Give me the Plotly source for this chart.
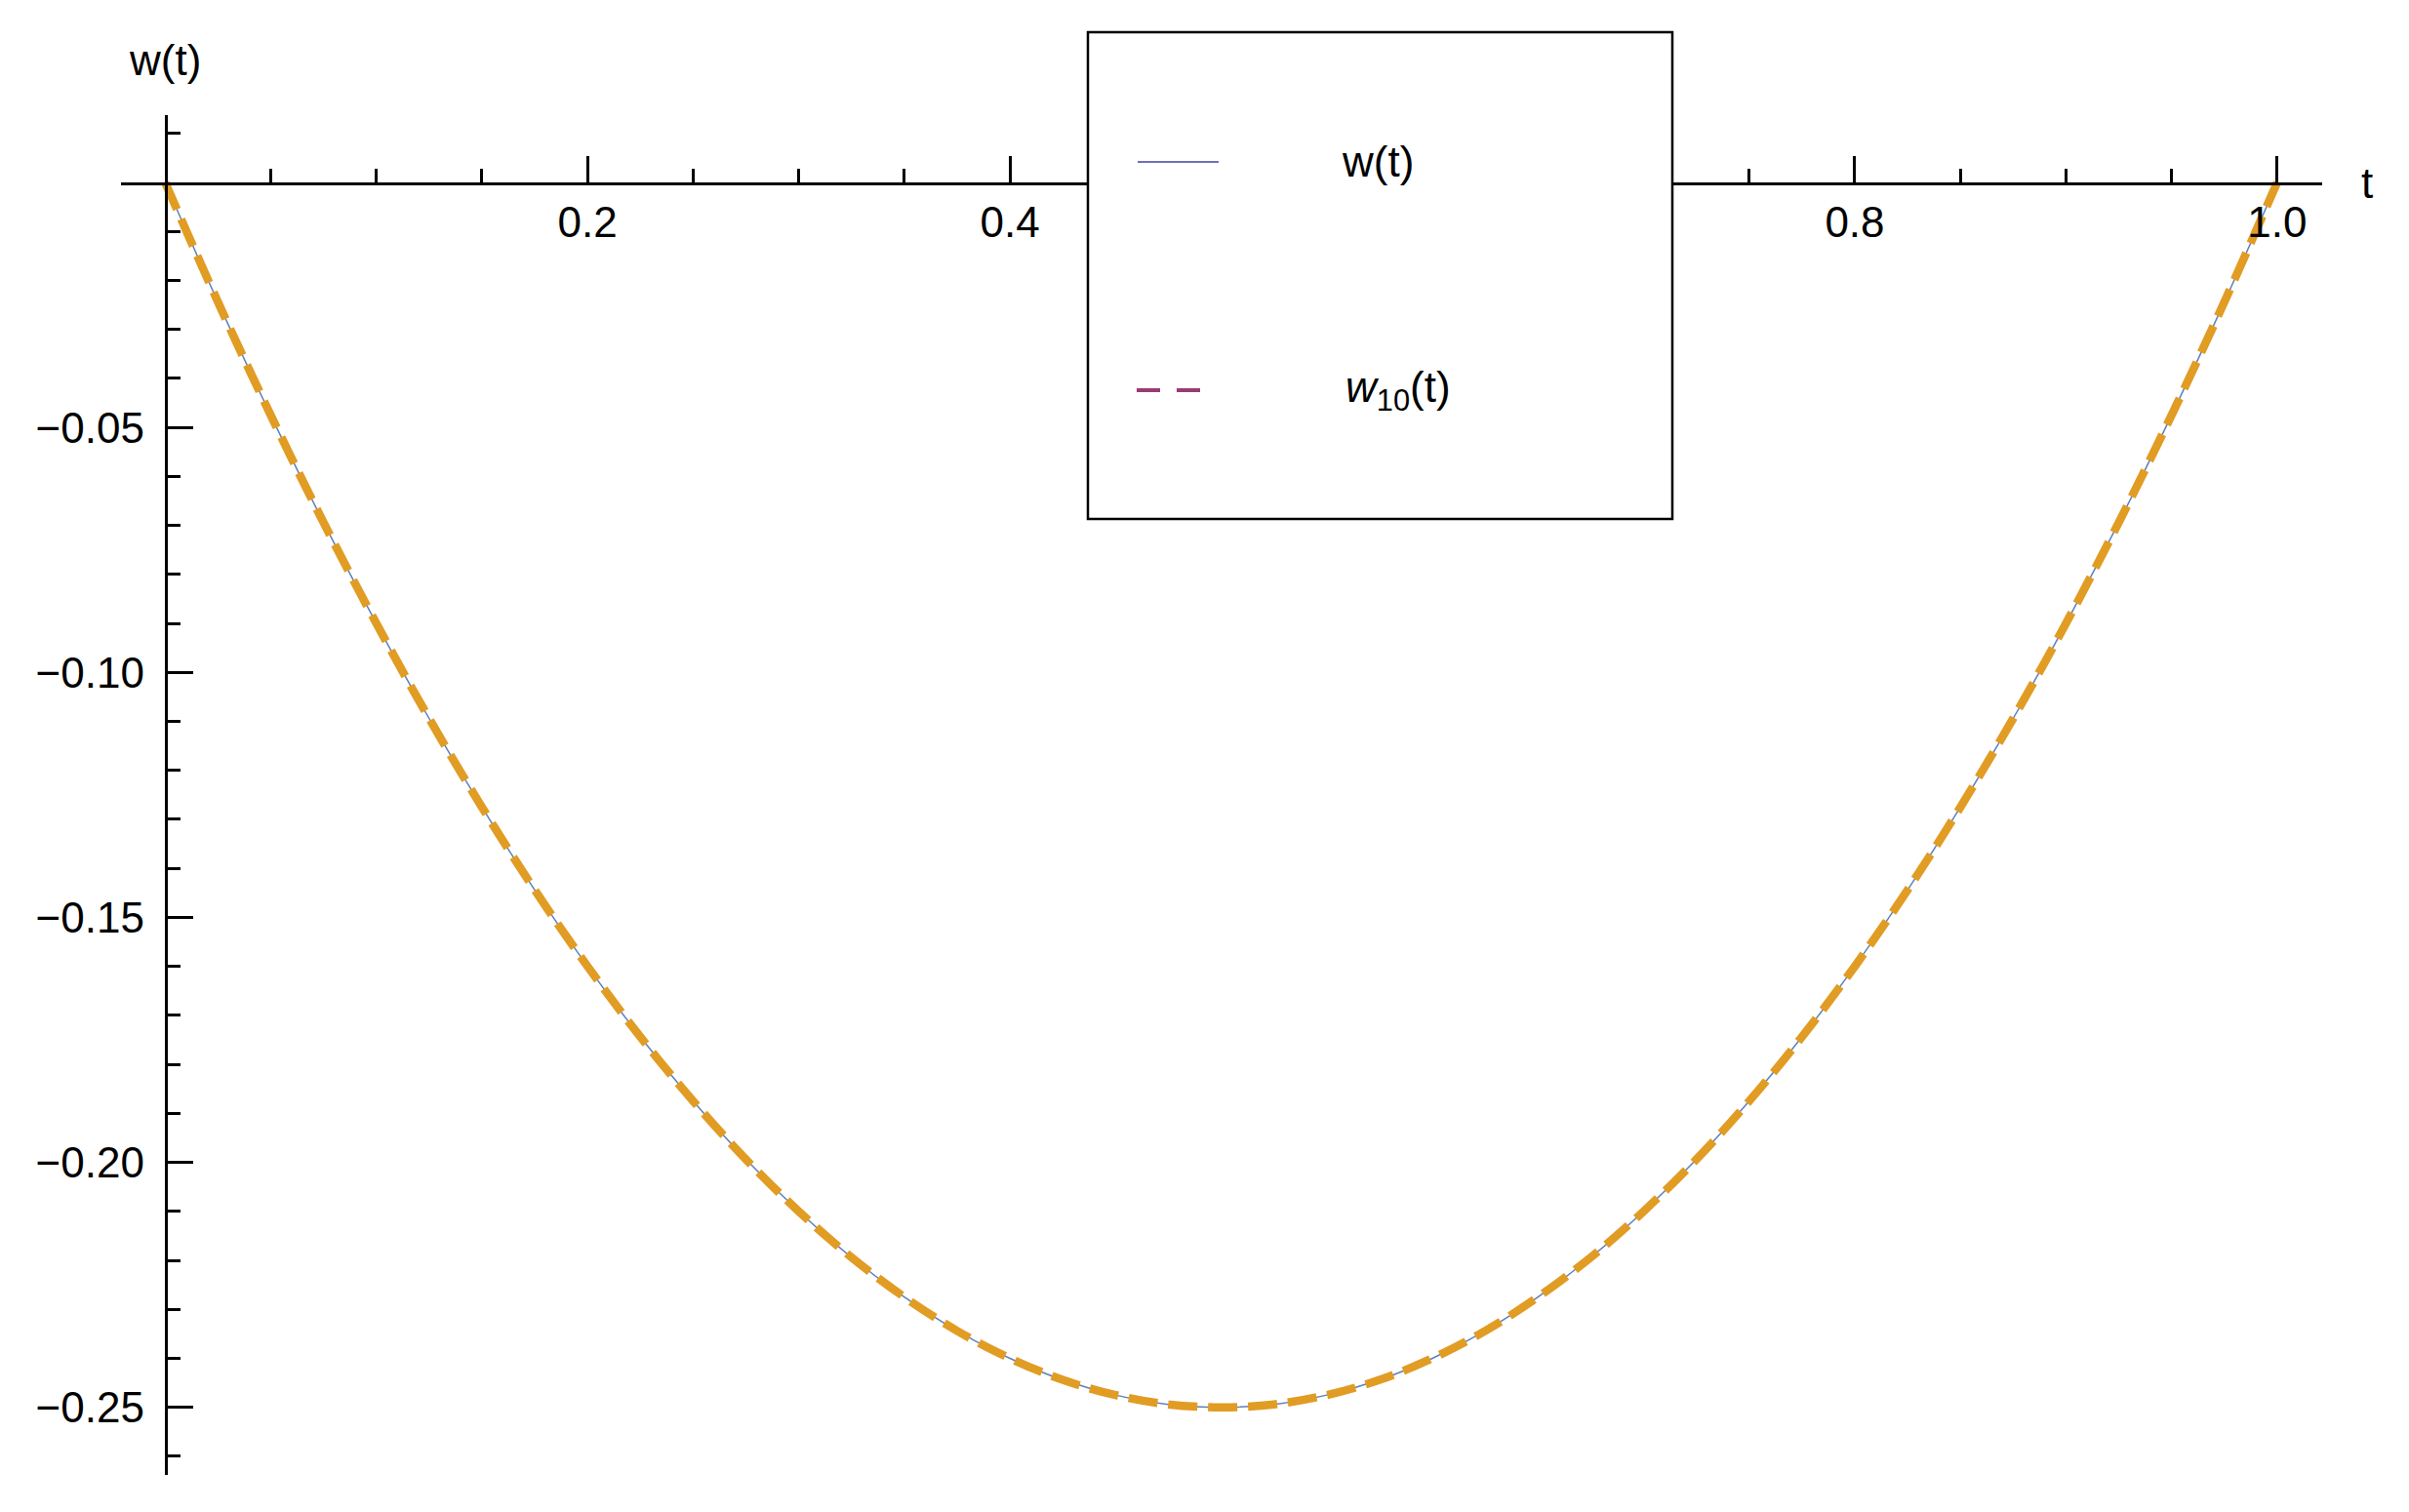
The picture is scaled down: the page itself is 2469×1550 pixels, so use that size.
import plotly.graph_objects as go

W, H = 2469, 1550
# the html page has an 8px body margin, pixel positions below are measured on the screenshot
OFF = 8

# points
t_vals = [0.0, 0.025, 0.05, 0.075, 0.1, 0.125, 0.15, 0.175, 0.2, 0.225,
          0.25, 0.275, 0.3, 0.325, 0.35, 0.375, 0.4, 0.425, 0.45, 0.475,
          0.5, 0.525, 0.55, 0.575, 0.6, 0.625, 0.65, 0.675, 0.7, 0.725,
          0.75, 0.775, 0.8, 0.825, 0.85, 0.875, 0.9, 0.925, 0.95, 0.975, 1.0]
w_exact = [0.0, -0.0244, -0.0475, -0.0694, -0.09, -0.1094, -0.1275, -0.1444, -0.16, -0.1744,
           -0.1875, -0.1994, -0.21, -0.2194, -0.2275, -0.2344, -0.24, -0.2444, -0.2475, -0.2494,
           -0.25, -0.2494, -0.2475, -0.2444, -0.24, -0.2344, -0.2275, -0.2194, -0.21, -0.1994,
           -0.1875, -0.1744, -0.16, -0.1444, -0.1275, -0.1094, -0.09, -0.0694, -0.0475, -0.0244, 0.0]
w_approx = [0.0, -0.0244, -0.0475, -0.0694, -0.09, -0.1094, -0.1275, -0.1444, -0.16, -0.1744,
            -0.1875, -0.1994, -0.21, -0.2194, -0.2275, -0.2344, -0.24, -0.2444, -0.2475, -0.2494,
            -0.25, -0.2494, -0.2475, -0.2444, -0.24, -0.2344, -0.2275, -0.2194, -0.21, -0.1994,
            -0.1875, -0.1744, -0.16, -0.1444, -0.1275, -0.1094, -0.09, -0.0694, -0.0475, -0.0244, 0.0]

x_ticks = [0.2, 0.4, 0.6, 0.8, 1.0]
x_tick_text = ["0.2", "0.4", "0.6", "0.8", "1.0"]
x_minor = [0.05, 0.1, 0.15, 0.25, 0.3, 0.35, 0.45, 0.5, 0.55, 0.65, 0.7, 0.75, 0.85, 0.9, 0.95]
y_ticks = [-0.25, -0.2, -0.15, -0.1, -0.05]
y_tick_text = ["\u22120.25", "\u22120.20", "\u22120.15", "\u22120.10", "\u22120.05"]
y_minor = [0.01, -0.01, -0.02, -0.03, -0.04, -0.06, -0.07, -0.08, -0.09, -0.11, -0.12,
           -0.13, -0.14, -0.16, -0.17, -0.18, -0.19, -0.21, -0.22, -0.23, -0.24, -0.26]
legend_labels = ["w(t)", "<i>w</i><sub>10</sub>(t)"]
legend_colors = ["#4040a0", "#9b3b73"]


def px(x):
    return (x - OFF) / W


def py(y):
    return 1 - (y - OFF) / H


FONT = "Liberation Sans, Arial, sans-serif"

fig = go.Figure()
# exact solution, thin solid line
fig.add_trace(go.Scatter(
    x=t_vals, y=w_exact, mode="lines", line=dict(color="#5e81b5", width=1.5, shape="spline"),
    showlegend=False
))
# approximation, thick dashed line on top
fig.add_trace(go.Scatter(
    x=t_vals, y=w_approx, mode="lines",
    line=dict(color="#e19c24", width=8.5, dash="30px,11px", shape="spline"),
    showlegend=False
))

axis_common = dict(
    showgrid=False, zeroline=False, showline=True, linecolor="black", linewidth=2.5,
    ticks="inside", ticklen=27, tickwidth=2.5, tickcolor="black",
    tickfont=dict(family=FONT, size=44, color="black"),
    automargin=False, anchor="free",
)

fig.update_layout(
    width=W, height=H,
    margin=dict(l=0, r=0, t=0, b=0),
    paper_bgcolor="white", plot_bgcolor="white",
    xaxis=dict(
        domain=[px(124), px(2380)], range=[-0.0209, 1.0213], position=py(188),
        tickmode="array", tickvals=x_ticks, ticktext=x_tick_text,
        minor=dict(tickmode="array", tickvals=x_minor, ticks="inside", ticklen=14,
                   tickwidth=2.5, tickcolor="black"),
        **axis_common
    ),
    yaxis=dict(
        domain=[py(1512), py(118)], range=[-0.2638, 0.01374], position=px(169.5),
        tickmode="array", tickvals=y_ticks, ticktext=y_tick_text, ticklabelstandoff=12,
        minor=dict(tickmode="array", tickvals=y_minor, ticks="inside", ticklen=14,
                   tickwidth=2.5, tickcolor="black"),
        **axis_common
    ),
    showlegend=False,
)

# axis labels
fig.add_annotation(text="w(t)", x=px(169), y=py(62), xref="paper", yref="paper",
                   showarrow=False, xanchor="center", yanchor="middle",
                   font=dict(family=FONT, size=44, color="black"))
fig.add_annotation(text="t", x=px(2418), y=py(188), xref="paper", yref="paper",
                   showarrow=False, xanchor="left", yanchor="middle",
                   font=dict(family=FONT, size=44, color="black"))

# legend box
fig.add_shape(type="rect", xref="paper", yref="paper", layer="above",
              x0=px(1115), x1=px(1714), y0=py(532), y1=py(33),
              fillcolor="white", line=dict(color="black", width=2.5))
fig.add_shape(type="line", xref="paper", yref="paper", layer="above",
              x0=px(1166), x1=px(1249), y0=py(166), y1=py(166),
              line=dict(color=legend_colors[0], width=1.5))
fig.add_shape(type="line", xref="paper", yref="paper", layer="above",
              x0=px(1165), x1=px(1231), y0=py(400), y1=py(400),
              line=dict(color=legend_colors[1], width=4, dash="24px,17px"))
fig.add_annotation(text=legend_labels[0], x=px(1373), y=py(165), xref="paper", yref="paper",
                   showarrow=False, xanchor="left", yanchor="middle",
                   font=dict(family=FONT, size=44, color="black"))
fig.add_annotation(text=legend_labels[1], x=px(1377), y=py(400), xref="paper", yref="paper",
                   showarrow=False, xanchor="left", yanchor="middle",
                   font=dict(family=FONT, size=44, color="black"))

fig.write_html("out.html")
